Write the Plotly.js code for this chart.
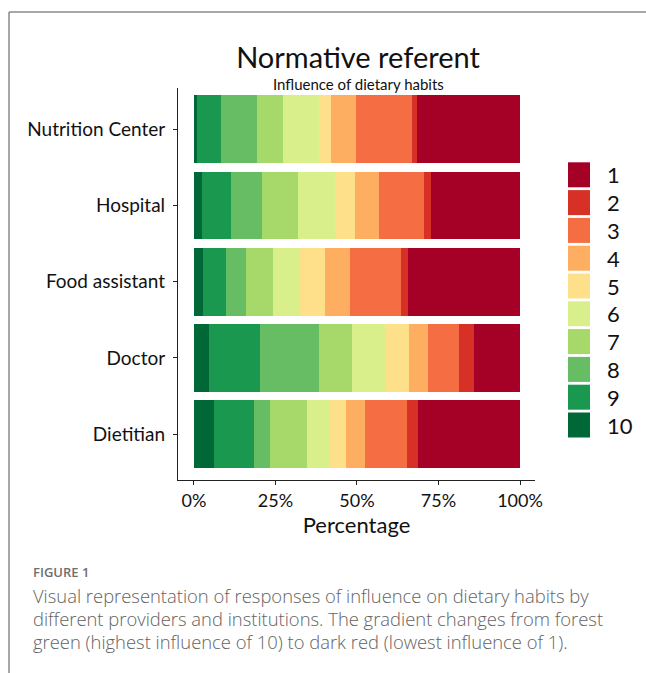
<!DOCTYPE html>
<html>
<head>
<meta charset="utf-8">
<script src="https://cdn.plot.ly/plotly-3.0.1.min.js"></script>
<style>
  html, body { margin: 0; padding: 0; background: #fff; }
  #chart { width: 646px; height: 673px; }
</style>
</head>
<body>
<div id="chart"></div>
<script>
// ---- data ----
const categories = ["Nutrition Center", "Hospital", "Food assistant", "Doctor", "Dietitian"];
const levels = ["10", "9", "8", "7", "6", "5", "4", "3", "2", "1"];
const colors = ["#006837", "#1a9850", "#66bd63", "#a6d96a", "#d9ef8b", "#fee08b", "#fdae61", "#f46d43", "#d73027", "#a50026"];
// percentages per level, in category order
const level10 = [0.8, 2.6, 2.9, 4.6, 6.1];
const level9  = [7.6, 8.7, 6.8, 15.5, 12.2];
const level8  = [11.0, 9.7, 6.4, 18.2, 5.1];
const level7  = [7.8, 11.0, 8.2, 10.2, 11.2];
const level6  = [11.2, 11.4, 8.2, 10.2, 7.1];
const level5  = [3.6, 5.9, 7.6, 7.1, 4.8];
const level4  = [7.7, 7.6, 7.9, 6.1, 5.9];
const level3  = [17.1, 13.7, 15.5, 9.5, 12.8];
const level2  = [1.7, 2.0, 2.0, 4.5, 3.6];
const level1  = [31.5, 27.4, 34.5, 14.1, 31.2];
const seriesValues = [level10, level9, level8, level7, level6, level5, level4, level3, level2, level1];
const xTickVals = [0, 25, 50, 75, 100];
const xTickText = ["0%", "25%", "50%", "75%", "100%"];
const legendOrder = ["1", "2", "3", "4", "5", "6", "7", "8", "9", "10"];
const captionLabel = "FIGURE 1";
const captionLines = [
  "Visual representation of responses of influence on dietary habits by",
  "different providers and institutions. The gradient changes from forest",
  "green (highest influence of 10) to dark red (lowest influence of 1)."
];

// ---- layout geometry ----
const W = 646, H = 673;
const M = { l: 178, r: 111, t: 88, b: 193 };
const PW = W - M.l - M.r, PH = H - M.t - M.b;
const px = x => (x - M.l) / PW;
const py = y => (H - M.b - y) / PH;
const FONT = "Lato, 'Noto Sans', sans-serif";
const CAPFONT = "'Open Sans', sans-serif";

const traces = levels.map((lv, i) => ({
  type: "bar",
  orientation: "h",
  name: lv,
  y: categories,
  x: seriesValues[i],
  marker: { color: colors[i], line: { width: 0 } },
  hovertemplate: "%{y}<br>Level " + lv + ": %{x:.1f}%<extra></extra>"
}));

const shapes = [
  // frame lines
  { type: "line", xref: "paper", yref: "paper", x0: px(9), x1: px(646), y0: py(12), y1: py(12), line: { color: "#8a8a8a", width: 1.5 } },
  { type: "line", xref: "paper", yref: "paper", x0: px(9), x1: px(9), y0: py(12), y1: py(673), line: { color: "#8a8a8a", width: 1.5 } }
];
const annotations = [
  { text: "Influence of dietary habits", xref: "paper", yref: "paper", x: px(358), y: py(84), xanchor: "center", yanchor: "middle", showarrow: false, font: { family: FONT, size: 15, color: "#111" } }
];

// manual legend (1 at top, 10 at bottom)
legendOrder.forEach((lv, k) => {
  const idx = levels.indexOf(lv);
  const top = 162.3 + 27.8 * k;
  shapes.push({ type: "rect", xref: "paper", yref: "paper", x0: px(568), x1: px(590), y0: py(top), y1: py(top + 25), fillcolor: colors[idx], line: { width: 0 } });
  annotations.push({ text: lv, xref: "paper", yref: "paper", x: px(605), y: py(top + 12.5), xanchor: "left", yanchor: "middle", showarrow: false, font: { family: FONT, size: 22, color: "#111" } });
});

// caption
annotations.push({ text: captionLabel, xref: "paper", yref: "paper", x: px(31), y: py(572), xanchor: "left", yanchor: "middle", showarrow: false, font: { family: CAPFONT, size: 13, color: "#6e6e6e", weight: 600 } });
captionLines.forEach((line, k) => {
  annotations.push({ text: line, xref: "paper", yref: "paper", x: px(31), y: py(595 + 23 * k), xanchor: "left", yanchor: "middle", showarrow: false, font: { family: CAPFONT, size: 18.4, color: "#636363", weight: 300 } });
});

const layout = {
  width: W, height: H,
  margin: M,
  paper_bgcolor: "#fff", plot_bgcolor: "#fff",
  font: { family: FONT, color: "#111" },
  title: { text: "Normative referent", x: 358 / W, xanchor: "center", y: 1 - 58 / H, yanchor: "middle", font: { family: FONT, size: 29, color: "#111" } },
  barmode: "stack",
  bargap: 0.11,
  showlegend: false,
  xaxis: {
    range: [-4.9, 104.6],
    tickvals: xTickVals, ticktext: xTickText,
    showgrid: false, zeroline: false,
    showline: true, linecolor: "#222", linewidth: 1.2,
    ticks: "outside", ticklen: 4, tickcolor: "#222",
    tickfont: { family: FONT, size: 18, color: "#111" },
    title: { text: "Percentage", font: { family: FONT, size: 22, color: "#111" }, standoff: 6 }
  },
  yaxis: {
    type: "category",
    categoryorder: "array", categoryarray: categories,
    range: [4.6, -0.54],
    showgrid: false, zeroline: false,
    showline: true, linecolor: "#222", linewidth: 1.2,
    ticks: "outside", ticklen: 4, tickcolor: "#222",
    ticklabelstandoff: 4,
    tickfont: { family: FONT, size: 19, color: "#111" }
  },
  shapes: shapes,
  annotations: annotations
};

Plotly.newPlot("chart", traces, layout, { displayModeBar: false, staticPlot: false });
</script>
</body>
</html>
